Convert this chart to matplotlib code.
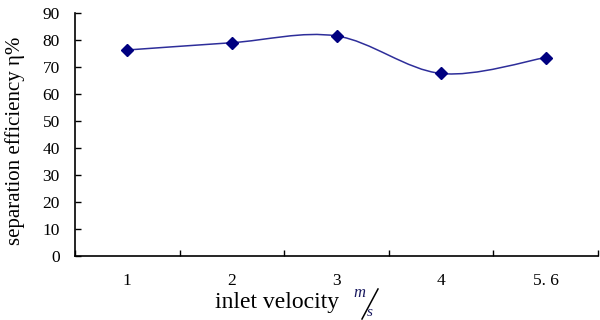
import matplotlib
matplotlib.use("Agg")
import matplotlib.pyplot as plt
from matplotlib.path import Path
from matplotlib.patches import PathPatch
from matplotlib.lines import Line2D
import numpy as np

# inlet velocity categories and measured separation efficiency
categories = ["1", "2", "3", "4", "5. 6"]
efficiency = [76.3, 79.0, 81.5, 67.6, 73.5]
y_ticks = [0, 10, 20, 30, 40, 50, 60, 70, 80, 90]

plt.rcParams["font.family"] = ["Liberation Serif", "DejaVu Serif"]

W, H = 600, 320
fig = plt.figure(figsize=(W / 100, H / 100), dpi=100)
ax = fig.add_axes([75 / W, 1 - 256 / H, 523 / W, 243 / H])

x = np.arange(len(categories))
y = np.array(efficiency, dtype=float)


def smooth_path(xs, ys, tension=1 / 6):
    # Catmull-Rom style bezier segments, like a spreadsheet "smoothed line"
    verts = [(xs[0], ys[0])]
    codes = [Path.MOVETO]
    n = len(xs)
    for i in range(n - 1):
        p0 = (xs[max(i - 1, 0)], ys[max(i - 1, 0)])
        p1 = (xs[i], ys[i])
        p2 = (xs[i + 1], ys[i + 1])
        p3 = (xs[min(i + 2, n - 1)], ys[min(i + 2, n - 1)])
        c1 = (p1[0] + (p2[0] - p0[0]) * tension, p1[1] + (p2[1] - p0[1]) * tension)
        c2 = (p2[0] - (p3[0] - p1[0]) * tension, p2[1] - (p3[1] - p1[1]) * tension)
        verts += [c1, c2, p2]
        codes += [Path.CURVE4] * 3
    return Path(verts, codes)


ax.add_patch(PathPatch(smooth_path(x, y), facecolor="none", edgecolor="#2e2e9a", lw=1.1))
ax.plot(x, y, linestyle="none", marker="D", markersize=6, color="#000080")

ax.set_xlim(-0.5, len(categories) - 0.5)
ax.set_ylim(0, 90)
ax.set_yticks(y_ticks)

# boundary ticks between categories, labels centred on categories
ax.set_xticks(np.arange(len(categories) + 1) - 0.5)
ax.set_xticklabels([])
ax.set_xticks(x, minor=True)
ax.set_xticklabels(categories, minor=True)
ax.tick_params(axis="x", which="major", direction="in", length=4, width=1)
ax.tick_params(axis="x", which="minor", length=0, pad=12, labelsize=12.5)
ax.tick_params(axis="y", direction="in", length=4, width=1, pad=11, labelsize=12.5)

for side in ("top", "right"):
    ax.spines[side].set_visible(False)
for side in ("left", "bottom"):
    ax.spines[side].set_linewidth(1.2)

ax.set_ylabel("separation efficiency η%", fontsize=15)
ax.yaxis.set_label_coords(-50 / 523, (256 - 141) / 243)

# x label with a hand-set m/s fraction, as in the source figure
fig.text(215 / W, 1 - 308 / H, "inlet velocity", fontsize=17,
         ha="left", va="baseline")
fig.text(353 / W, 1 - 297 / H, "m", fontsize=12, style="italic",
         ha="left", va="baseline", color="#1a1a60")
fig.text(367 / W, 1 - 316 / H, "s", fontsize=11, style="italic",
         ha="left", va="baseline", color="#1a1a60")
fig.add_artist(Line2D([362 / W, 378 / W], [1 - 319 / H, 1 - 289 / H],
                      transform=fig.transFigure, color="black", lw=1.1))

fig.savefig("out.png", dpi=100)
